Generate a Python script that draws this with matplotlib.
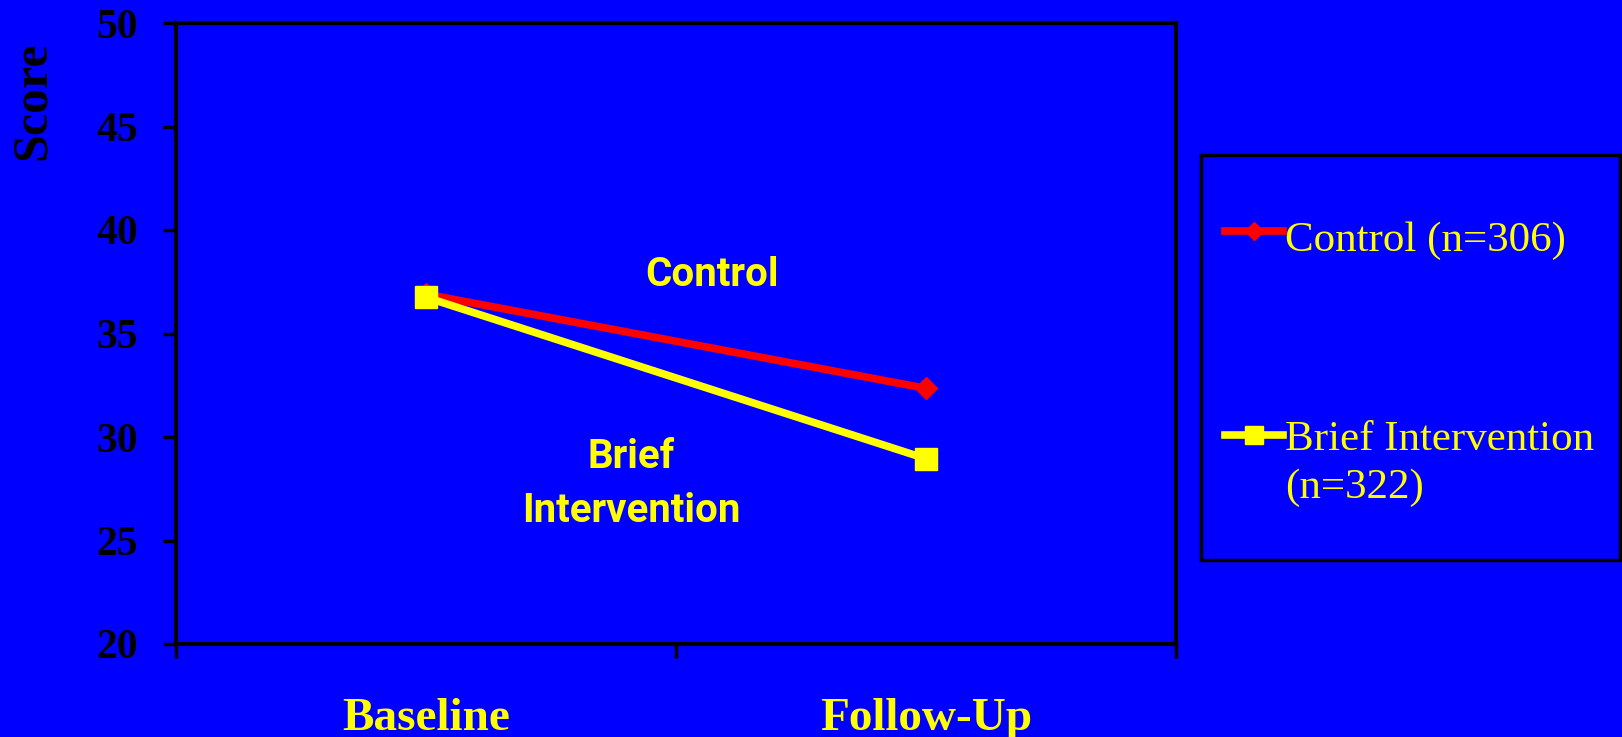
import matplotlib.pyplot as plt
from matplotlib.lines import Line2D
from matplotlib.patches import Rectangle

# scores at the two time points
timepoints = ["Baseline", "Follow-Up"]
control = [36.9, 32.35]
brief = [36.75, 28.95]
series_names = ["Control (n=306)", "Brief Intervention\n(n=322)"]
yticks = [20, 25, 30, 35, 40, 45, 50]

BLUE = "#0000FF"
RED = "#FF0000"
YELLOW = "#FFFF00"

W, H = 1622, 737
fig = plt.figure(figsize=(W / 100, H / 100), dpi=100, facecolor=BLUE)
ax = fig.add_axes([176 / W, 1 - 644 / H, 1000 / W, 621 / H], facecolor=BLUE)

x = list(range(len(timepoints)))
styles = [
    dict(color=RED, marker="D", markersize=11, lw=5.5),
    dict(color=YELLOW, marker="s", markersize=16, lw=5.5),
]
ax.plot(x, control, zorder=3, **styles[0])
ax.plot(x, brief, zorder=4, **styles[1])

ax.set_xlim(-0.5, 1.5)
ax.set_ylim(20, 50)
ax.set_yticks(yticks)
ax.set_xticks(x)
ax.set_xticks([-0.5, 0.5, 1.5], minor=True)
ax.set_xticklabels(timepoints, fontfamily="Liberation Serif", fontweight="bold",
                   fontsize=34, color=YELLOW)
ax.tick_params(axis="x", which="major", length=0, pad=39)
ax.tick_params(axis="x", which="minor", length=10, width=2.5, color="black")
ax.tick_params(axis="y", length=9.5, width=2.5, color="black", pad=18,
               labelsize=30, labelcolor="black")
for lab in ax.get_yticklabels():
    lab.set_fontfamily("Liberation Serif")
    lab.set_fontweight("bold")
for sp in ax.spines.values():
    sp.set_linewidth(3)
    sp.set_color("black")

fig.text(33 / W, 1 - 101 / H, "Score", rotation=90, ha="center", va="center",
         fontfamily="Liberation Serif", fontweight="bold", fontsize=36, color="black")

# group labels inside the plot
ax.text(0.536, 0.594, "Control", transform=ax.transAxes, ha="center", va="center",
        fontfamily="Roboto", fontweight="bold", fontsize=29, color=YELLOW)
ax.text(0.455, 0.258, "Brief\nIntervention", transform=ax.transAxes, ha="center",
        va="center", fontfamily="Roboto", fontweight="bold", fontsize=29,
        color=YELLOW, linespacing=1.55)

# legend box on the right
fig.add_artist(Rectangle((1201 / W, 1 - 560 / H), 419 / W, 405 / H,
                         transform=fig.transFigure, facecolor=BLUE,
                         edgecolor="black", lw=2.5))
entry_y = [231, 435]
text_shift = [10, 14]
for name, st, yy, dy in zip(series_names, styles, entry_y, text_shift):
    yf = 1 - yy / H
    fig.add_artist(Line2D([1225 / W, 1283 / W], [yf, yf], transform=fig.transFigure,
                          color=st["color"], lw=st["lw"]))
    fig.add_artist(Line2D([1254 / W], [yf], transform=fig.transFigure,
                          color=st["color"], marker=st["marker"],
                          markersize=st["markersize"] * 0.8, lw=0))
    fig.text(1285 / W, yf + dy / H, name, ha="left", va="top",
             fontfamily="Liberation Serif", fontsize=31, color=YELLOW,
             linespacing=1.3)

fig.savefig("out.png", dpi=100, facecolor=BLUE)
